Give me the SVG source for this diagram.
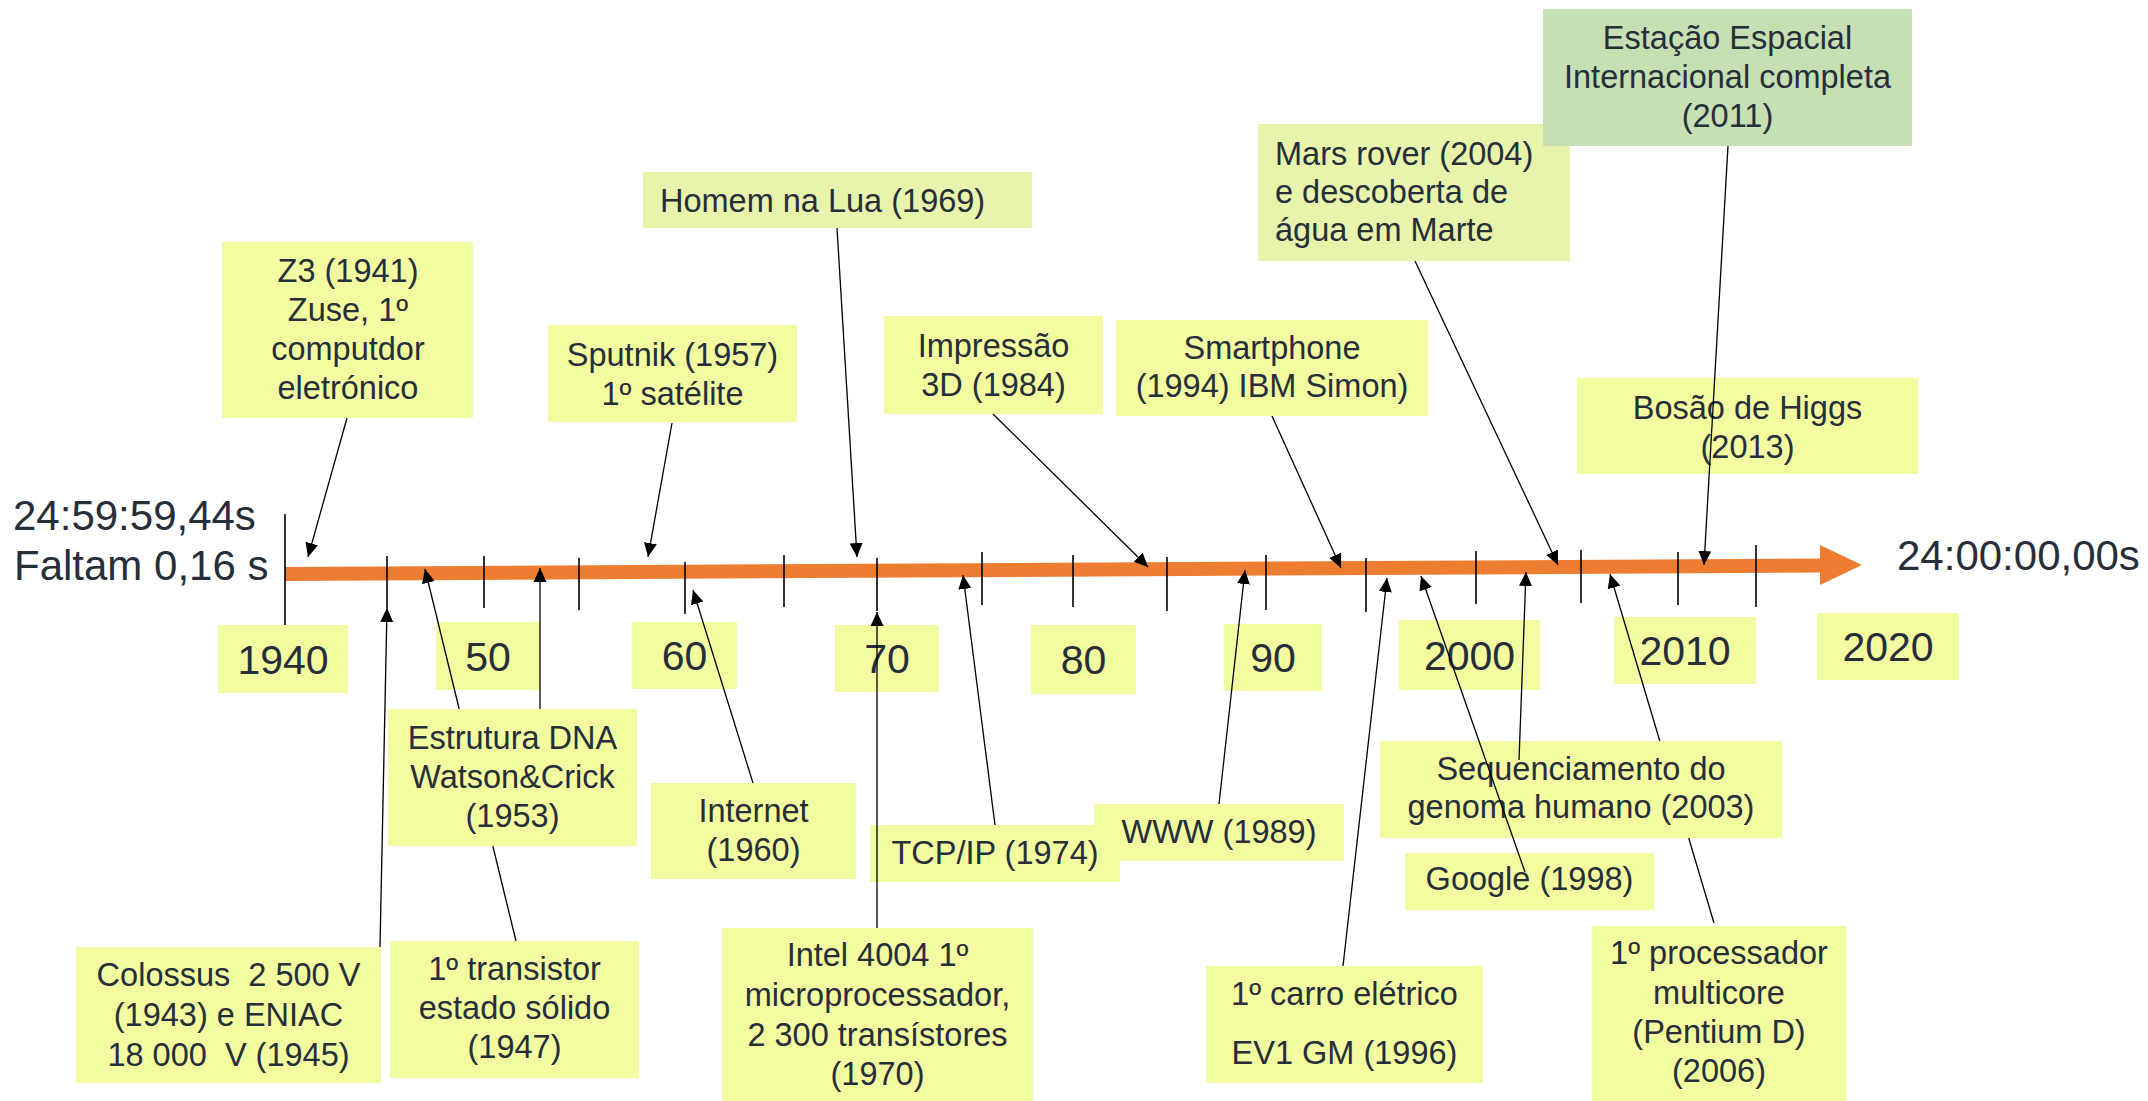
<svg xmlns="http://www.w3.org/2000/svg" width="2148" height="1101" viewBox="0 0 2148 1101">
<defs>
<style>
text{font-family:"Liberation Sans",Arial,sans-serif;fill:#262E3A;}
.ev{font-size:32.5px;text-anchor:middle;}
.evl{font-size:32.5px;text-anchor:start;}
.yr{font-size:41px;text-anchor:middle;}
.big{font-size:42px;}
.y{fill:#F3FBA0;}
.gy{fill:#E8F3AC;}
.g{fill:#C6E0B4;}
.tick{stroke:#000;stroke-width:1.6;}
.con{stroke:#000;stroke-width:1.3;fill:none;}
</style>
<marker id="ah" viewBox="0 0 14 14" refX="14" refY="7" markerWidth="14" markerHeight="14" markerUnits="userSpaceOnUse" orient="auto">
<path d="M0,0.5 L14,7 L0,13.5 z" fill="#000"/>
</marker>
</defs>
<rect width="2148" height="1101" fill="#fff"/>

<g id="labels-time">
<text class="big" x="13" y="530">24:59:59,44s</text>
<text class="big" x="14" y="580">Faltam 0,16 s</text>
<text class="big" x="1897" y="570">24:00:00,00s</text>
</g>

<g id="years">
<g id="y1940"><rect class="y" x="218" y="625" width="130" height="68"/><text class="yr" x="283" y="674">1940</text></g>
<g id="y1950"><rect class="y" x="436" y="622" width="104" height="68"/><text class="yr" x="488" y="671">50</text></g>
<g id="y1960"><rect class="y" x="632" y="622" width="105" height="67"/><text class="yr" x="684.5" y="670">60</text></g>
<g id="y1970"><rect class="y" x="835" y="625" width="104" height="67"/><text class="yr" x="887" y="673">70</text></g>
<g id="y1980"><rect class="y" x="1031" y="625" width="105" height="69"/><text class="yr" x="1083.5" y="674">80</text></g>
<g id="y1990"><rect class="y" x="1224" y="624" width="98" height="67"/><text class="yr" x="1273" y="672">90</text></g>
<g id="y2000"><rect class="y" x="1399" y="620" width="141" height="70"/><text class="yr" x="1469.5" y="670">2000</text></g>
<g id="y2010"><rect class="y" x="1614" y="617" width="142" height="67"/><text class="yr" x="1685" y="665">2010</text></g>
<g id="y2020"><rect class="y" x="1817" y="613" width="142" height="67"/><text class="yr" x="1888" y="661">2020</text></g>
</g>

<g id="timeline">
<line x1="285" y1="574" x2="1822" y2="565.5" stroke="#ED7D31" stroke-width="14"/>
<polygon points="1820,545 1862,565 1820,585" fill="#ED7D31"/>
<line class="tick" x1="285" y1="514" x2="285" y2="625" stroke-width="2"/>
<line class="tick" x1="387" y1="556" x2="387" y2="608"/>
<line class="tick" x1="484" y1="556" x2="484" y2="608"/>
<line class="tick" x1="579" y1="558" x2="579" y2="610"/>
<line class="tick" x1="685" y1="562" x2="685" y2="614"/>
<line class="tick" x1="784" y1="555" x2="784" y2="607"/>
<line class="tick" x1="877" y1="558" x2="877" y2="611"/>
<line class="tick" x1="982" y1="552" x2="982" y2="605"/>
<line class="tick" x1="1073" y1="555" x2="1073" y2="607"/>
<line class="tick" x1="1167" y1="557" x2="1167" y2="611"/>
<line class="tick" x1="1266" y1="555" x2="1266" y2="610"/>
<line class="tick" x1="1366" y1="558" x2="1366" y2="612"/>
<line class="tick" x1="1476" y1="551" x2="1476" y2="604"/>
<line class="tick" x1="1581" y1="550" x2="1581" y2="603"/>
<line class="tick" x1="1678" y1="552" x2="1678" y2="605"/>
<line class="tick" x1="1756" y1="545" x2="1756" y2="607"/>
</g>

<g id="z3"><rect class="y" x="222" y="242" width="251" height="176"/>
<text class="ev" x="348" y="282">Z3 (1941)</text><text class="ev" x="348" y="321">Zuse, 1º</text><text class="ev" x="348" y="360">computdor</text><text class="ev" x="348" y="399">eletrónico</text></g>

<g id="sputnik"><rect class="y" x="548" y="325" width="249" height="97"/>
<text class="ev" x="672.5" y="366">Sputnik (1957)</text><text class="ev" x="672.5" y="405">1º satélite</text></g>

<g id="homem"><rect class="gy" x="643" y="172" width="389" height="56"/>
<text class="evl" x="660" y="212">Homem na Lua (1969)</text></g>

<g id="impressao"><rect class="y" x="884" y="316" width="219" height="98"/>
<text class="ev" x="993.5" y="357">Impressão</text><text class="ev" x="993.5" y="396">3D (1984)</text></g>

<g id="smartphone"><rect class="y" x="1116" y="320" width="312" height="96"/>
<text class="ev" x="1272" y="359">Smartphone</text><text class="ev" x="1272" y="397">(1994) IBM Simon)</text></g>

<g id="mars"><rect class="gy" x="1258" y="124" width="312" height="137"/>
<text class="evl" x="1275" y="165">Mars rover (2004)</text><text class="evl" x="1275" y="203">e descoberta de</text><text class="evl" x="1275" y="241">água em Marte</text></g>

<g id="iss"><rect class="g" x="1543" y="9" width="369" height="137"/>
<text class="ev" x="1727.5" y="49">Estação Espacial</text><text class="ev" x="1727.5" y="88">Internacional completa</text><text class="ev" x="1727.5" y="127">(2011)</text></g>

<g id="higgs"><rect class="y" x="1577" y="378" width="341" height="96"/>
<text class="ev" x="1747.5" y="419">Bosão de Higgs</text><text class="ev" x="1747.5" y="458">(2013)</text></g>

<g id="colossus"><rect class="y" x="76" y="947" width="305" height="136"/>
<text class="ev" x="228.5" y="986" xml:space="preserve">Colossus  2 500 V</text><text class="ev" x="228.5" y="1026">(1943) e ENIAC</text><text class="ev" x="228.5" y="1066" xml:space="preserve">18 000  V (1945)</text></g>

<g id="dna"><rect class="y" x="388" y="709" width="249" height="137"/>
<text class="ev" x="512.5" y="749">Estrutura DNA</text><text class="ev" x="512.5" y="788">Watson&amp;Crick</text><text class="ev" x="512.5" y="827">(1953)</text></g>

<g id="transistor"><rect class="y" x="390" y="941" width="249" height="137"/>
<text class="ev" x="514.5" y="980">1º transistor</text><text class="ev" x="514.5" y="1019">estado sólido</text><text class="ev" x="514.5" y="1058">(1947)</text></g>

<g id="internet"><rect class="y" x="651" y="783" width="205" height="96"/>
<text class="ev" x="753.5" y="822">Internet</text><text class="ev" x="753.5" y="861">(1960)</text></g>

<g id="intel"><rect class="y" x="722" y="928" width="311" height="173"/>
<text class="ev" x="877.5" y="966">Intel 4004 1º</text><text class="ev" x="877.5" y="1006">microprocessador,</text><text class="ev" x="877.5" y="1046">2 300 transístores</text><text class="ev" x="877.5" y="1085">(1970)</text></g>

<g id="www"><rect class="y" x="1094" y="804" width="250" height="57"/>
<text class="ev" x="1219" y="843">WWW (1989)</text></g>

<g id="tcpip"><rect class="y" x="870" y="825" width="250" height="57"/>
<text class="ev" x="995" y="864">TCP/IP (1974)</text></g>

<g id="carro"><rect class="y" x="1206" y="966" width="277" height="117"/>
<text class="ev" x="1344.5" y="1005">1º carro elétrico</text><text class="ev" x="1344.5" y="1064">EV1 GM (1996)</text></g>

<g id="genoma"><rect class="y" x="1380" y="741" width="402" height="97"/>
<text class="ev" x="1581" y="780">Sequenciamento do</text><text class="ev" x="1581" y="818">genoma humano (2003)</text></g>

<g id="google"><rect class="y" x="1405" y="853" width="249" height="57"/>
<text class="ev" x="1529.5" y="890">Google (1998)</text></g>

<g id="multicore"><rect class="y" x="1592" y="926" width="254" height="175"/>
<text class="ev" x="1719" y="964">1º processador</text><text class="ev" x="1719" y="1004">multicore</text><text class="ev" x="1719" y="1043">(Pentium D)</text><text class="ev" x="1719" y="1082">(2006)</text></g>

<g id="connectors">
<line class="con" x1="347" y1="418" x2="308" y2="557" marker-end="url(#ah)"/>
<line class="con" x1="672" y1="423" x2="648" y2="557" marker-end="url(#ah)"/>
<line class="con" x1="837" y1="228" x2="857" y2="557" marker-end="url(#ah)"/>
<line class="con" x1="993" y1="414" x2="1148" y2="567" marker-end="url(#ah)"/>
<line class="con" x1="1272" y1="416" x2="1341" y2="568" marker-end="url(#ah)"/>
<line class="con" x1="1415" y1="261" x2="1558" y2="565" marker-end="url(#ah)"/>
<line class="con" x1="1728" y1="146" x2="1704" y2="565" marker-end="url(#ah)"/>
<line class="con" x1="380" y1="947" x2="387" y2="608" marker-end="url(#ah)"/>
<line class="con" x1="516" y1="941" x2="492.8" y2="846"/>
<line class="con" x1="459.2" y1="709" x2="425" y2="569" marker-end="url(#ah)"/>
<line class="con" x1="540" y1="709" x2="540" y2="568" marker-end="url(#ah)"/>
<line class="con" x1="753" y1="783" x2="693" y2="590" marker-end="url(#ah)"/>
<line class="con" x1="877" y1="928" x2="877" y2="612" marker-end="url(#ah)"/>
<line class="con" x1="995" y1="825" x2="963" y2="575" marker-end="url(#ah)"/>
<line class="con" x1="1219" y1="804" x2="1245" y2="570" marker-end="url(#ah)"/>
<line class="con" x1="1343" y1="966" x2="1387" y2="578" marker-end="url(#ah)"/>
<line class="con" x1="1519" y1="760" x2="1526" y2="572" marker-end="url(#ah)"/>
<line class="con" x1="1525" y1="872" x2="1421" y2="576" marker-end="url(#ah)"/>
<line class="con" x1="1714" y1="923" x2="1688.7" y2="838"/>
<line class="con" x1="1659.8" y1="741" x2="1610" y2="574" marker-end="url(#ah)"/>
</g>
</svg>
